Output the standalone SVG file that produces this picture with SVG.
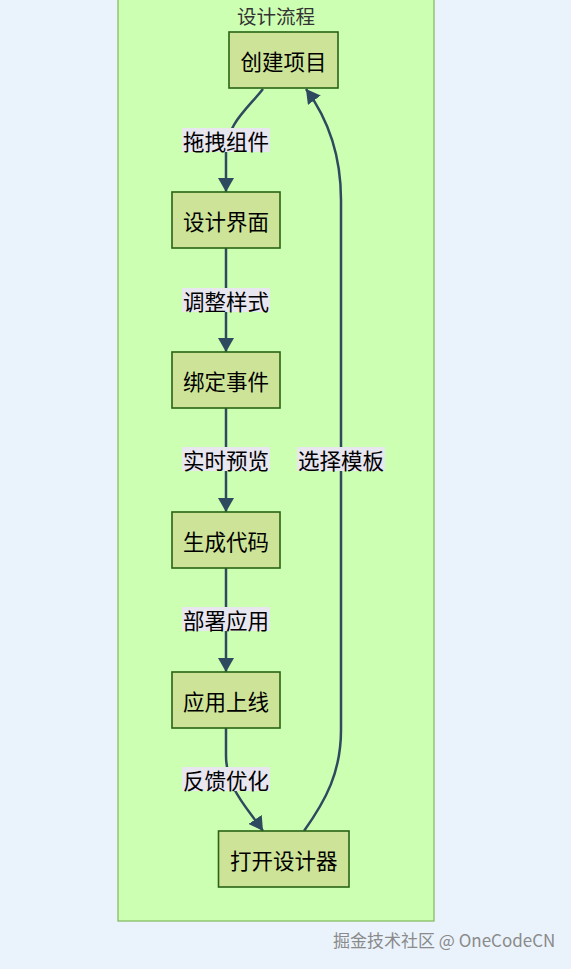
<svg xmlns="http://www.w3.org/2000/svg" width="571" height="969" viewBox="0 0 571 969">
<style>
  .bg{fill:#eaf3fc}
  .cluster{fill:#cdffb2;stroke:#7fb85a;stroke-width:1.2}
  .title{font-family:"Noto Sans CJK SC","Noto Sans",sans-serif;font-size:19.5px;fill:#333;text-anchor:middle}
  .node rect{fill:#cde498;stroke:#2a6316;stroke-width:1.6}
  .node text{font-family:"Noto Sans CJK SC","Noto Sans",sans-serif;font-size:21.5px;fill:#000;text-anchor:middle;dominant-baseline:central}
  .edge{fill:none;stroke:#2e4a5e;stroke-width:2.5;marker-end:url(#arrow)}
  .lbl rect{fill:#e8e6ef}
  .lbl text{font-family:"Noto Sans CJK SC","Noto Sans",sans-serif;font-size:21.5px;fill:#000;text-anchor:middle;dominant-baseline:central}
  .wm{font-family:"Noto Sans CJK SC","Noto Sans",sans-serif;font-size:17px;fill:#8a8a8a}
</style>
<defs>
  <marker id="arrow" markerUnits="userSpaceOnUse" markerWidth="15" markerHeight="16" refX="14" refY="8" orient="auto">
    <path d="M0,0 L14,8 L0,16 z" fill="#2e4a5e"/>
  </marker>
</defs>
<rect class="bg" x="0" y="0" width="571" height="969"/>
<rect class="cluster" x="118" y="-10" width="316" height="931"/>
<text class="title" x="276" y="24">设计流程</text>

<g id="connectors">
  <path class="edge" d="M263,89 C248,108 226,125 226,152 L226,192"/>
  <path class="edge" d="M226,248 L226,352"/>
  <path class="edge" d="M226,408 L226,512"/>
  <path class="edge" d="M226,568 L226,672"/>
  <path class="edge" d="M226,728 L226,755 C226,788 246,806 263,831"/>
  <path class="edge" d="M304,831 C326,800 341,772 341,730 L341,200 C341,150 326,116 306,89"/>
</g>

<g id="edge-labels">
  <g class="lbl"><rect x="182" y="128" width="88" height="24"/><text x="226" y="140">拖拽组件</text></g>
  <g class="lbl"><rect x="182" y="288" width="88" height="24"/><text x="226" y="300">调整样式</text></g>
  <g class="lbl"><rect x="182" y="447" width="88" height="24"/><text x="226" y="459">实时预览</text></g>
  <g class="lbl"><rect x="182" y="607" width="88" height="24"/><text x="226" y="619">部署应用</text></g>
  <g class="lbl"><rect x="182" y="767" width="88" height="24"/><text x="226" y="779">反馈优化</text></g>
  <g class="lbl"><rect x="297" y="447" width="88" height="24"/><text x="341" y="459">选择模板</text></g>
</g>

<g id="n-create" class="node"><rect x="229" y="32" width="109" height="56"/><text x="283.5" y="60">创建项目</text></g>
<g id="n-design" class="node"><rect x="172" y="192" width="108" height="56"/><text x="226" y="220">设计界面</text></g>
<g id="n-bind" class="node"><rect x="172" y="352" width="108" height="56"/><text x="226" y="380">绑定事件</text></g>
<g id="n-gen" class="node"><rect x="172" y="512" width="108" height="56"/><text x="226" y="540">生成代码</text></g>
<g id="n-deploy" class="node"><rect x="172" y="672" width="108" height="56"/><text x="226" y="700">应用上线</text></g>
<g id="n-open" class="node"><rect x="218.5" y="831" width="130.5" height="56"/><text x="283.75" y="859">打开设计器</text></g>

<text class="wm" x="333" y="947">掘金技术社区 @ OneCodeCN</text>
</svg>
